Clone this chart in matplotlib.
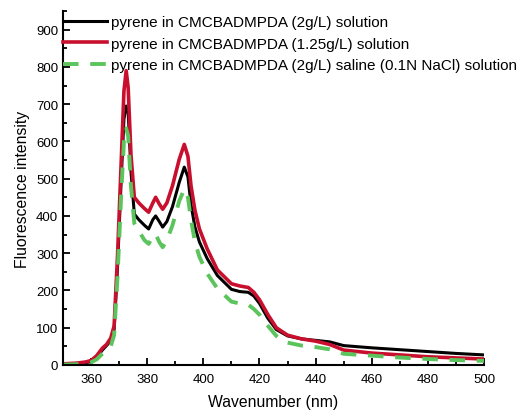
import matplotlib.pyplot as plt
from matplotlib.ticker import MultipleLocator

plt.rcParams["font.family"] = ["Liberation Sans", "DejaVu Sans"]

# wavelength grid (nm)
wavelength = [350, 355, 358, 360, 362, 364, 365.5, 367, 368.2, 369.4,
              370.8, 371.7, 372.5, 373.2, 374.2, 375.4, 377, 379, 380.5, 382,
              383, 384.3, 385.5, 387, 389, 391.4, 393.2, 394.5, 395.6, 397,
              398.6, 401.4, 405, 410, 413, 416, 418, 420, 423, 426,
              430, 435, 440, 445, 450, 460, 470, 480, 490, 500]

pyr_2gl = [2, 4, 6, 9, 20, 40, 52, 65, 95, 260,
           510, 660, 695, 680, 520, 405, 390, 375, 365, 390,
           400, 385, 370, 385, 425, 490, 531, 505, 430, 370,
           330, 285, 240, 203, 197, 195, 185, 165, 125, 95,
           78, 70, 66, 62, 52, 46, 41, 36, 31, 27]

pyr_125gl = [3, 5, 8, 12, 25, 45, 55, 72, 105, 290,
             560, 735, 790, 745, 565, 450, 435, 420, 410, 435,
             450, 432, 418, 435, 481, 552, 592, 560, 481, 415,
             365, 311, 255, 218, 212, 208, 195, 175, 135, 100,
             80, 70, 64, 55, 40, 32, 27, 22, 19, 16]

pyr_saline = [1, 2, 4, 7, 15, 30, 40, 50, 80, 235,
              470, 600, 635, 615, 480, 380, 360, 335, 325, 345,
              351, 330, 316, 335, 375, 440, 472, 450, 390, 330,
              290, 245, 205, 170, 165, 162, 150, 135, 105, 78,
              60, 52, 48, 42, 30, 25, 20, 16, 13, 11]

labels = ["pyrene in CMCBADMPDA (2g/L) solution",
          "pyrene in CMCBADMPDA (1.25g/L) solution",
          "pyrene in CMCBADMPDA (2g/L) saline (0.1N NaCl) solution"]

fig = plt.figure(figsize=(5.21, 4.14), dpi=100)
ax = fig.add_axes([0.121, 0.116, 0.808, 0.855])

ax.plot(wavelength, pyr_2gl, color="black", lw=2.2, label=labels[0])
ax.plot(wavelength, pyr_125gl, color="#c8102e", lw=2.6, label=labels[1])
ax.plot(wavelength, pyr_saline, color="#5cc45c", lw=2.8, ls=(0, (4, 3)), label=labels[2])

ax.set_xlim(350, 500)
ax.set_ylim(0, 950)
ax.xaxis.set_major_locator(MultipleLocator(20))
ax.xaxis.set_minor_locator(MultipleLocator(10))
ax.yaxis.set_major_locator(MultipleLocator(100))
ax.yaxis.set_minor_locator(MultipleLocator(50))
ax.set_xticks(range(360, 501, 20))

for side in ("top", "right"):
    ax.spines[side].set_visible(False)
for side in ("left", "bottom"):
    ax.spines[side].set_linewidth(1.5)

ax.tick_params(which="both", direction="in", width=1.3, labelsize=9.5, color="black")
ax.tick_params(which="major", length=5)
ax.tick_params(which="minor", length=3)
ax.tick_params(axis="x", pad=6)

ax.set_xlabel("Wavenumber (nm)", fontsize=11.3, labelpad=6)
ax.set_ylabel("Fluorescence intensity", fontsize=11.3, labelpad=4)

ax.legend(loc="upper left", bbox_to_anchor=(0.0, 0.988), frameon=False, fontsize=11,
          handlelength=2.9, handletextpad=0.25, labelspacing=0.48, borderaxespad=0,
          borderpad=0.0)

fig.savefig("out.png", dpi=100)
